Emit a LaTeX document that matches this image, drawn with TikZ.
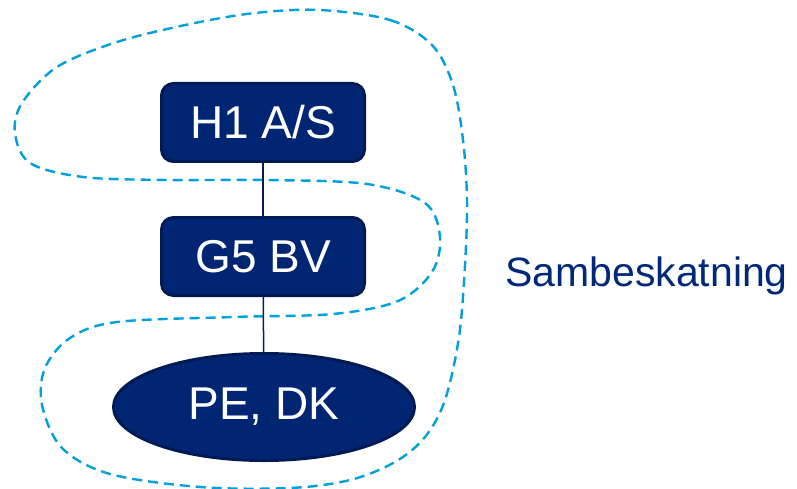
\documentclass[tikz,border=0pt]{standalone}
\usepackage{fontspec}
\setmainfont{Liberation Sans}
\usetikzlibrary{shapes.geometric}
\definecolor{boxfill}  {RGB}{  0, 38,115}
\definecolor{boxedge}  {RGB}{  0, 27, 84}
\definecolor{linkcol}  {RGB}{  0, 30, 95}
\definecolor{groupcol} {RGB}{  0,160,220}
\definecolor{labelcol} {RGB}{  0, 40,120}

\begin{document}
\begin{tikzpicture}[
  % 1 unit = 1pt, y axis pointing down (image pixel coordinates)
  x={(1pt,0pt)},
  y={(0pt,-1pt)},
  line cap=round,line join=round,
  entity/.style={draw=boxedge,fill=boxfill,line width=3pt,rounded corners=12pt,
    minimum width=203pt,minimum height=78pt,text=white,font=\fontsize{46}{50}\selectfont},
  pe/.style={ellipse,draw=boxedge,fill=boxfill,line width=3pt,
    minimum width=301pt,minimum height=107pt,inner sep=0pt,text=white,
    font=\fontsize{46}{50}\selectfont},
  link/.style={draw=linkcol,line width=1.5pt},
  grouplabel/.style={text=labelcol,font=\fontsize{41}{45}\selectfont,inner sep=0pt}
]
\useasboundingbox (0,0) rectangle (797,489);

% ---- consolidation group boundary ---------------------------------------
\draw[groupcol,line width=2.4pt,line cap=butt,dash pattern=on 10pt off 6pt]
  plot[smooth cycle,tension=0.55] coordinates {
    (320,10) (390,20) (432,45) (453,85) (463,140) (467,200) (465,265)
    (459,337) (445,400) (425,437) (395,462) (350,480) (290,488) (200,487)
    (110,474) (62,448) (42,405) (45,368) (70,338) (117,322) (233,317)
    (333,314) (398,301) (432,272) (440,237) (425,203) (367,184) (267,180)
    (167,180) (83,177) (30,163) (15,133) (22,103) (57,67) (117,42)
    (190,24) (255,13)};

% ---- entities ------------------------------------------------------------
\node[entity] (h1) at (263,122.5) {H1 A/S};
\node[entity] (g5) at (263,256.5) {G5 BV};
\node[pe]     (pedk) at (264,407) {PE, DK};

% ---- ownership links -----------------------------------------------------
\draw[link] (h1) -- (g5);
\draw[link] (g5) -- (pedk);

% ---- label ---------------------------------------------------------------
\node[grouplabel,anchor=west] (samb) at (505,276) {Sambeskatning};

\end{tikzpicture}
\end{document}
